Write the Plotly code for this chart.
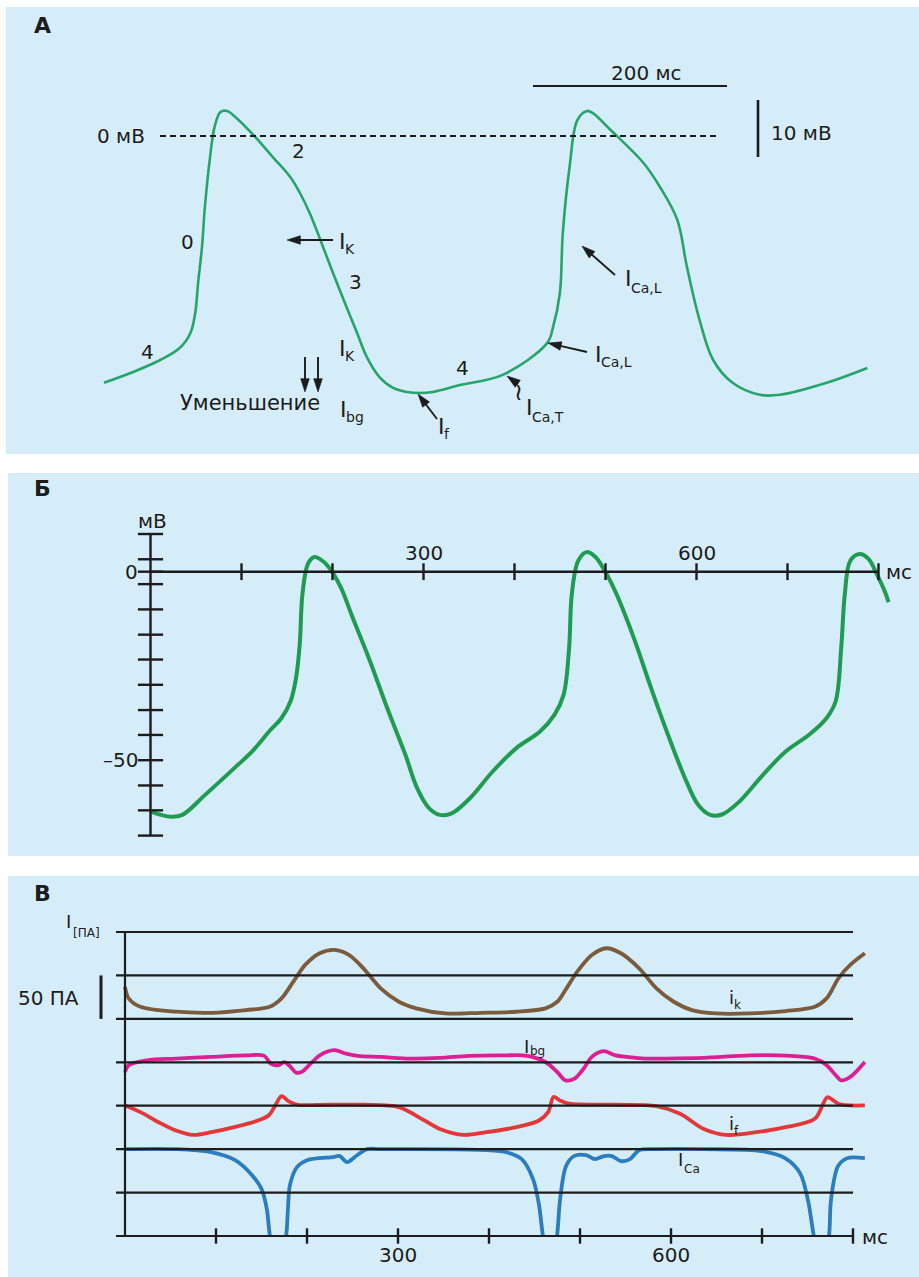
import plotly.graph_objects as go

W, H = 919, 1277
BG = "#d5edf9"
INK = "#1c1c1c"
FONT = "DejaVu Sans"

# ---------------- Panel A data (time, ms ; membrane potential, mV) -------------
A_T = [0, 30, 58, 78, 89, 94, 97, 101, 104, 109, 114, 120, 127, 133, 154, 174, 192, 202,
       212, 223, 236, 250, 261, 271, 284, 298, 312, 326, 339, 367, 411, 457, 463, 470,
       473, 480, 488, 498, 504, 522, 556, 573, 591, 601, 614, 628, 648, 676, 697, 745, 787]
A_V = [-43.3, -41.4, -39.3, -37.2, -34.6, -31.1, -25.8, -19.5, -12.5, -4.2, 1.6, 4.2, 4.4,
       3.7, 0.2, -3.7, -7.2, -10.0, -13.5, -18.2, -24.0, -30.0, -34.6, -38.8, -42.3, -44.2,
       -44.9, -45.1, -44.9, -43.7, -41.9, -36.3, -33.5, -27.5, -17.0, -5.4, 2.8, 4.4, 4.0,
       1.1, -4.7, -8.9, -14.7, -23.0, -32.3, -39.3, -43.3, -45.4, -45.4, -43.3, -40.7]
A_SCALE_MS = 200
A_SCALE_MV = 10

# ---------------- Panel Б data (ms ; mV) ----------------
B_T = [1, 22, 35, 60, 93, 112, 131, 144, 154, 160, 164, 167, 173, 180, 186, 196, 209, 222,
       241, 260, 280, 293, 306, 318, 331, 351, 376, 402, 428, 444, 454, 460, 463, 470, 479,
       489, 499, 512, 531, 550, 570, 589, 602, 615, 628, 647, 673, 698, 724, 743, 753, 759,
       763, 769, 779, 789, 798, 808, 811]
B_V = [-63.7, -65.0, -64.5, -59.2, -51.9, -47.6, -42.2, -38.8, -34.3, -28.1, -19.2, -5.9,
       2.1, 3.9, 3.4, 1.2, -4.1, -12.1, -23.6, -36.1, -48.5, -57.4, -62.7, -64.5, -64.1,
       -60.1, -53.0, -46.8, -42.4, -37.9, -32.6, -20.2, -5.9, 2.9, 5.2, 3.9, 0.3, -5.9,
       -17.5, -30.8, -44.1, -55.7, -61.9, -64.5, -64.4, -61.0, -53.9, -47.7, -43.2, -38.8,
       -34.3, -20.2, -5.9, 2.9, 4.7, 3.4, -0.6, -5.9, -8.1]
B_XTICKS = [100, 200, 300, 400, 500, 600, 700, 800]
B_XLABELS = {300: "300", 600: "600"}
B_YTICKS = [10, 3.3, 0, -3.3, -10, -16.7, -23.3, -30, -36.7, -43.3, -50, -56.7, -63.3, -70]
B_YLABELS = {0: "0", -50: "\u201350"}

# ---------------- Panel В data (ms ; pA, relative to own baseline) ----------------
C_LEVELS = [0, -50, -100, -150, -200, -250, -300, -350]
C_XTICKS = [100, 200, 300, 400, 500, 600, 700, 800]
C_XLABELS = {300: "300", 600: "600"}
C_SCALE_PA = 50

IK_BASE = -100
IK_T = [0, 4, 17, 56, 95, 133, 159, 172, 185, 198, 214, 230, 246, 262, 281, 301, 320, 352,
        391, 430, 462, 475, 484, 497, 513, 529, 545, 565, 584, 603, 623, 649, 687, 726, 758,
        771, 784, 797, 813]
IK_V = [37, 23.6, 13.9, 8.2, 7, 10.1, 13.9, 23.6, 42.8, 62.1, 75.5, 79.4, 73.6, 58.2, 35.1,
        19.7, 12.1, 6.2, 7, 8.2, 12.1, 19.7, 33.2, 54.4, 73.6, 81.3, 75.5, 58.2, 35.1, 19.7,
        10.1, 6.2, 6.2, 9, 13.9, 23.6, 46.7, 62.1, 75.5]

IBG_BASE = -150
IBG_T = [0, 4, 24, 56, 95, 133, 153, 160, 169, 175, 182, 188, 194, 204, 214, 230, 243, 256,
         281, 314, 346, 378, 417, 442, 462, 475, 484, 494, 504, 513, 526, 539, 552, 571, 591,
         636, 687, 732, 758, 771, 781, 787, 797, 813]
IBG_V = [-11.2, -3.4, 2.3, 4.3, 6.2, 8, 7.4, -1.5, -3.4, 0.3, -5.4, -11.9, -11.2, -1.5, 8,
         13.9, 10, 7.4, 6.2, 4.3, 5, 7.4, 8, 7.4, 0.3, -11.2, -20.8, -18.9, -7.4, 6.2, 12.8,
         8, 6.2, 4.3, 4.3, 5, 8, 7.4, 4.3, -3.4, -14.9, -20.8, -16.9, 0.3]

IF_BASE = -200
IF_T = [0, 17, 37, 56, 75, 95, 120, 146, 158, 165, 172, 180, 190, 223, 262, 301, 326, 346,
        372, 397, 430, 455, 465, 471, 478, 488, 539, 584, 610, 636, 661, 694, 726, 758, 768,
        772, 784, 797, 813]
IF_V = [0.3, -7.4, -19, -28.5, -33.6, -30.5, -24.7, -17, -11, 0, 11, 5, 1.1, 1.1, 1.1, -1.6,
        -15.1, -26.7, -33.6, -30.5, -24.7, -17, -7.4, 10, 6.1, 2.3, 1.1, -0.5, -9.3, -26.7,
        -33.6, -30.5, -24.7, -15.1, 4.1, 10, 2.3, 0.3, 0.3]

ICA_BASE = -250
ICA_T = [0, 56, 94.5, 121, 139.6, 150.5, 156, 159.3, 168, 177, 179, 181.3, 189, 200, 228.6,
         236, 244, 255, 266, 281, 378, 416.5, 436, 448.4, 455, 459.3, 467, 474.7, 478, 484.6,
         493.4, 506.6, 516.5, 526.4, 535.2, 545, 555, 564.8, 583.5, 635, 700, 725.3, 741.8,
         750.5, 757, 766, 773.6, 775.8, 783.5, 793.4, 813]
ICA_V = [0, 0, -3.5, -12.7, -30, -47, -70, -100, -140, -100, -70, -41, -20.7, -12.7, -9.2,
         -8, -15, -7, 0, 0, -0.5, -2.9, -11.5, -34.5, -64.5, -100, -140, -100, -58.7, -19.6,
         -8, -6.9, -11.5, -8, -8, -13.8, -11.5, -1.2, 0, 0, -2.3, -10.4, -27.6, -58.7, -100,
         -140, -100, -58.7, -19.6, -10.4, -10.4]


# ---------------- layout helpers (pixel geometry) ----------------
def xdom(p0, p1):
    return [p0 / W, p1 / W]


def ydom(p0, p1):
    return [1 - p1 / H, 1 - p0 / H]


def xrng(p0, p1, origin, scale):
    return [(p0 - origin) / scale, (p1 - origin) / scale]


def yrng(p0, p1, origin, scale):
    return [(origin - p1) / scale, (origin - p0) / scale]


# pixel mapping of each panel (origin px, px per unit)
A_X0, A_XS, A_Y0, A_YS = 104, 0.97, 136, 5.7
B_X0, B_XS, B_Y0, B_YS = 150.5, 0.91, 571.7, 3.77
C_X0, C_XS, C_Y0 = 125, 0.91, 932
C_AXIS_PX = 1236
C_YS = (C_AXIS_PX - C_Y0) / (C_LEVELS[0] - C_LEVELS[-1])


def tA(px):
    return (px - A_X0) / A_XS


def vA(py):
    return (A_Y0 - py) / A_YS


def tC(px):
    return (px - C_X0) / C_XS


fig = go.Figure()

# curves
fig.add_trace(go.Scatter(x=A_T, y=A_V, mode="lines", xaxis="x", yaxis="y",
                         line=dict(color="#26a46a", width=2.6, shape="spline", smoothing=1.0),
                         hoverinfo="skip", showlegend=False))
fig.add_trace(go.Scatter(x=B_T, y=B_V, mode="lines", xaxis="x2", yaxis="y2",
                         line=dict(color="#1f9b52", width=4, shape="spline", smoothing=1.0),
                         hoverinfo="skip", showlegend=False))

for t, v, base, col, ya in [(IK_T, IK_V, IK_BASE, "#7b5b3d", "y3"),
                            (IBG_T, IBG_V, IBG_BASE, "#dc1f93", "y3"),
                            (IF_T, IF_V, IF_BASE, "#e2373b", "y3"),
                            (ICA_T, ICA_V, ICA_BASE, "#2c7dbd", "y4")]:
    fig.add_trace(go.Scatter(x=t, y=[base + val for val in v], mode="lines",
                             xaxis="x3", yaxis=ya,
                             line=dict(color=col, width=3.8, shape="spline", smoothing=0.9),
                             hoverinfo="skip", showlegend=False))

# crossing tick marks
fig.add_trace(go.Scatter(x=B_XTICKS, y=[0] * len(B_XTICKS), mode="markers", xaxis="x2", yaxis="y2",
                         marker=dict(symbol="line-ns", size=12, line=dict(color=INK, width=2.4)),
                         hoverinfo="skip", showlegend=False, cliponaxis=False))
fig.add_trace(go.Scatter(x=[0] * len(B_YTICKS), y=B_YTICKS, mode="markers", xaxis="x2", yaxis="y2",
                         marker=dict(symbol="line-ew", size=18, line=dict(color=INK, width=2.4)),
                         hoverinfo="skip", showlegend=False, cliponaxis=False))
fig.add_trace(go.Scatter(x=C_XTICKS, y=[C_LEVELS[-1]] * len(C_XTICKS), mode="markers",
                         xaxis="x3", yaxis="y3",
                         marker=dict(symbol="line-ns", size=11, line=dict(color=INK, width=2.4)),
                         hoverinfo="skip", showlegend=False, cliponaxis=False))


# pointer arrows of panel A (pixel positions: tail -> head)
def pointer(tx, ty, hx, hy):
    fig.add_trace(go.Scatter(x=[tA(tx), tA(hx)], y=[vA(ty), vA(hy)], mode="lines+markers",
                             xaxis="x", yaxis="y",
                             line=dict(color=INK, width=1.9),
                             marker=dict(symbol="arrow", size=[0, 14], angleref="previous",
                                         color=INK, opacity=1, line=dict(width=0.6, color=INK)),
                             hoverinfo="skip", showlegend=False, cliponaxis=False))


pointer(333, 240, 287, 240)
pointer(305, 357, 305, 392)
pointer(318, 357, 318, 392)
pointer(437, 419, 418, 394)
pointer(518, 384, 507, 376)
pointer(615, 275, 582, 246)
pointer(587, 352, 548, 343)

shapes = []
# panel backgrounds
for (x0, y0, x1, y1) in [(6, 7, 919, 454), (8, 473, 919, 856), (8, 876, 919, 1277)]:
    shapes.append(dict(type="rect", xref="paper", yref="paper", x0=x0 / W, x1=x1 / W,
                       y0=1 - y1 / H, y1=1 - y0 / H, fillcolor=BG, line=dict(width=0), layer="below"))

# Panel A: 0 mV dashed line and scale bars
shapes.append(dict(type="line", xref="x", yref="y", x0=tA(160), x1=tA(718), y0=0, y1=0,
                   line=dict(color=INK, width=1.8, dash="6px,4px")))
bar_x0 = tA(533)
shapes.append(dict(type="line", xref="x", yref="y", x0=bar_x0, x1=bar_x0 + A_SCALE_MS,
                   y0=vA(86), y1=vA(86), line=dict(color=INK, width=2)))
bar_y0 = vA(157)
shapes.append(dict(type="line", xref="x", yref="y", x0=tA(758), x1=tA(758),
                   y0=bar_y0, y1=bar_y0 + A_SCALE_MV, line=dict(color=INK, width=2.6)))

# Panel Б axes
shapes.append(dict(type="line", xref="x2", yref="y2", x0=0, x1=0, y0=max(B_YTICKS), y1=min(B_YTICKS),
                   line=dict(color=INK, width=2.4)))
shapes.append(dict(type="line", xref="x2", yref="y2", x0=0, x1=max(B_XTICKS), y0=0, y1=0,
                   line=dict(color=INK, width=2.4)))

# Panel В grid lines and axes
for lv in C_LEVELS:
    shapes.append(dict(type="line", xref="x3", yref="y3", x0=tC(116), x1=max(C_XTICKS), y0=lv, y1=lv,
                       line=dict(color=INK, width=2.2)))
shapes.append(dict(type="line", xref="x3", yref="y3", x0=0, x1=0, y0=C_LEVELS[0], y1=C_LEVELS[-1],
                   line=dict(color=INK, width=2.2)))
shapes.append(dict(type="line", xref="x3", yref="y3", x0=tC(101), x1=tC(101),
                   y0=C_LEVELS[1], y1=C_LEVELS[1] - C_SCALE_PA, line=dict(color=INK, width=3)))

annotations = []


def ann(text, px, py, size=20, xanchor="center", bold=False):
    if bold:
        text = "<b>" + text + "</b>"
    annotations.append(dict(text=text, x=px / W, y=1 - py / H, xref="paper", yref="paper",
                            showarrow=False, xanchor=xanchor, yanchor="middle",
                            font=dict(size=size, color=INK, family=FONT)))


def lab(main, sub, px, py, sx, sy, size=22, subsize=14):
    ann(main, px, py, size=size, xanchor="left")
    ann(sub, sx, sy, size=subsize, xanchor="left")


# Panel A labels
ann("А", 42, 25, size=22, bold=True)
ann("0 мВ", 147, 136, xanchor="right")
ann("2", 298, 151)
ann("0", 187, 242)
ann("3", 355, 282)
ann("4", 147, 352)
ann("4", 462, 368)
lab("I", "K", 337, 242, 343, 249)
lab("I", "K", 337, 349, 343, 356)
ann("Уменьшение", 250, 403, size=21)
lab("I", "bg", 338, 409, 344, 417)
lab("I", "f", 436, 426, 442, 434)
ann("\u2240", 518, 392, size=24)
lab("I", "Ca,T", 524, 408, 530, 417)
lab("I", "Ca,L", 623, 278, 629, 288)
lab("I", "Ca,L", 593, 354, 599, 362)
ann("200 мс", 646, 73)
ann("10 мВ", 769, 133, xanchor="left")

# Panel Б labels
ann("Б", 42, 488, size=22, bold=True)
ann("мВ", 152, 521)
ann("мс", 884, 572, xanchor="left")
for tv, lbl in B_XLABELS.items():
    annotations.append(dict(text=lbl, x=tv, y=0, xref="x2", yref="y2", showarrow=False,
                            yshift=19, font=dict(size=20, color=INK, family=FONT)))
for vv, lbl in B_YLABELS.items():
    annotations.append(dict(text=lbl, x=0, y=vv, xref="x2", yref="y2", showarrow=False,
                            xanchor="right", xshift=-11, font=dict(size=20, color=INK, family=FONT)))

# Panel В labels
ann("В", 42, 893, size=22, bold=True)
lab("I", "[ПА]", 64, 922, 71, 933, size=18, subsize=12)
ann("50 ПА", 48, 998)
lab("i", "k", 727, 997, 732, 1005, size=18, subsize=12)
lab("I", "bg", 522, 1046, 528, 1051, size=18, subsize=12)
lab("i", "f", 727, 1123, 732, 1131, size=18, subsize=12)
lab("I", "Ca", 676, 1159, 682, 1169, size=18, subsize=12)
ann("мс", 860, 1237, xanchor="left")
for tv, lbl in C_XLABELS.items():
    annotations.append(dict(text=lbl, x=tv, y=C_LEVELS[-1], xref="x3", yref="y3", showarrow=False,
                            yshift=-19, font=dict(size=20, color=INK, family=FONT)))


def hidden(domain, rng, anchor):
    return dict(domain=domain, range=rng, visible=False, fixedrange=True, anchor=anchor)


c_rng_full = yrng(876, 1277, C_Y0, C_YS)
c_rng_clip = [C_LEVELS[-1], yrng(876, C_AXIS_PX, C_Y0, C_YS)[1]]

fig.update_layout(
    width=W, height=H, autosize=False,
    margin=dict(l=0, r=0, t=0, b=0, pad=0),
    paper_bgcolor="white", plot_bgcolor="rgba(0,0,0,0)",
    font=dict(family=FONT, color=INK, size=20),
    xaxis=hidden(xdom(6, 919), xrng(6, 919, A_X0, A_XS), "y"),
    yaxis=hidden(ydom(7, 454), yrng(7, 454, A_Y0, A_YS), "x"),
    xaxis2=hidden(xdom(8, 919), xrng(8, 919, B_X0, B_XS), "y2"),
    yaxis2=hidden(ydom(473, 856), yrng(473, 856, B_Y0, B_YS), "x2"),
    xaxis3=hidden(xdom(8, 919), xrng(8, 919, C_X0, C_XS), "y3"),
    yaxis3=hidden(ydom(876, 1277), c_rng_full, "x3"),
    yaxis4=hidden(ydom(876, C_AXIS_PX), c_rng_clip, "x3"),
    shapes=shapes,
    annotations=annotations,
)

fig.write_html("out.html", config={"displayModeBar": False})
